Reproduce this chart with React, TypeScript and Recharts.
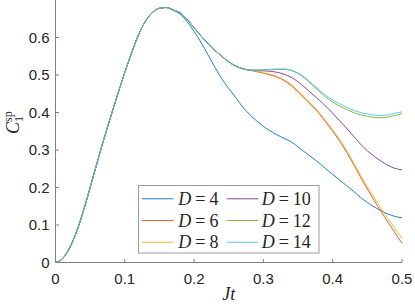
import React from 'react';
import { LineChart, Line, XAxis, YAxis } from 'recharts';

const times = [
  0, 0.01, 0.02, 0.03, 0.04, 0.05, 0.06, 0.07, 0.08, 0.09,
  0.1, 0.11, 0.12, 0.13, 0.14, 0.15, 0.16, 0.17, 0.18, 0.19,
  0.2, 0.21, 0.22, 0.23, 0.24, 0.25, 0.26, 0.27, 0.28, 0.29,
  0.3, 0.31, 0.32, 0.33, 0.34, 0.35, 0.36, 0.37, 0.38, 0.39,
  0.4, 0.41, 0.42, 0.43, 0.44, 0.45, 0.46, 0.47, 0.48, 0.49, 0.5,
];

// t = 0 .. 0.17 (all D identical)
const risePart = [0, 0.01, 0.038, 0.08, 0.136, 0.2, 0.266, 0.33, 0.391, 0.45, 0.507, 0.56, 0.608, 0.644, 0.667, 0.678, 0.68, 0.673];
// t = 0.18 .. 0.28 (D >= 6 identical)
const plateauPart = [0.666, 0.648, 0.626, 0.604, 0.584, 0.566, 0.55, 0.535, 0.524, 0.517, 0.513];

// t = 0.18 .. 0.5
const tailD4 = [0.662, 0.642, 0.616, 0.587, 0.554, 0.521, 0.49, 0.464, 0.44, 0.415, 0.395, 0.378, 0.363, 0.351, 0.34, 0.331, 0.322, 0.308, 0.294, 0.28, 0.266, 0.25, 0.235, 0.22, 0.205, 0.19, 0.174, 0.16, 0.148, 0.138, 0.129, 0.123, 0.119];
// t = 0.29 .. 0.5
const tailD6 = [0.509, 0.505, 0.5, 0.494, 0.485, 0.472, 0.455, 0.437, 0.418, 0.398, 0.374, 0.35, 0.324, 0.294, 0.262, 0.228, 0.196, 0.165, 0.135, 0.107, 0.079, 0.051];
const tailD8 = [0.51, 0.506, 0.502, 0.496, 0.487, 0.475, 0.458, 0.44, 0.421, 0.401, 0.378, 0.354, 0.328, 0.299, 0.267, 0.233, 0.202, 0.172, 0.143, 0.116, 0.09, 0.065];
const tailD10 = [0.512, 0.511, 0.51, 0.507, 0.502, 0.494, 0.482, 0.467, 0.45, 0.434, 0.417, 0.398, 0.378, 0.358, 0.337, 0.316, 0.298, 0.283, 0.27, 0.259, 0.251, 0.247];
const tailD12 = [0.513, 0.514, 0.514, 0.515, 0.515, 0.512, 0.504, 0.491, 0.474, 0.457, 0.441, 0.428, 0.417, 0.408, 0.4, 0.394, 0.39, 0.387, 0.386, 0.388, 0.392, 0.397];
const tailD14 = [0.513, 0.514, 0.515, 0.516, 0.516, 0.513, 0.505, 0.493, 0.477, 0.461, 0.446, 0.433, 0.423, 0.414, 0.406, 0.4, 0.396, 0.393, 0.392, 0.394, 0.398, 0.402];

const d4 = [...risePart, ...tailD4];
const d6 = [...risePart, ...plateauPart, ...tailD6];
const d8 = [...risePart, ...plateauPart, ...tailD8];
const d10 = [...risePart, ...plateauPart, ...tailD10];
const d12 = [...risePart, ...plateauPart, ...tailD12];
const d14 = [...risePart, ...plateauPart, ...tailD14];

const seriesLabels = ['4', '6', '8', '10', '12', '14'];
const seriesKeys = ['d4', 'd6', 'd8', 'd10', 'd12', 'd14'];
const seriesColors = ['#0072BD', '#D95319', '#EDB120', '#7E2F8E', '#77AC30', '#4DBEEE'];
const seriesValues = [d4, d6, d8, d10, d12, d14];

const xTicks = [0, 0.1, 0.2, 0.3, 0.4, 0.5];
const yTicks = [0, 0.1, 0.2, 0.3, 0.4, 0.5, 0.6];

const data = times.map((t, i) => {
  const row: Record<string, number> = { t };
  seriesKeys.forEach((k, j) => {
    row[k] = seriesValues[j][i];
  });
  return row;
});

const axisColor = '#808080';
const tickStyle = { fontSize: 15, fill: '#262626', fontFamily: '"Liberation Sans", Arial, sans-serif' };
const serif = '"Liberation Serif", "Times New Roman", serif';

const XLabel = (props: any) => {
  const vb = props.viewBox || { x: 0, y: 0, width: 0, height: 0 };
  return (
    <text
      x={vb.x + vb.width / 2}
      y={vb.y + 37}
      textAnchor="middle"
      fontFamily={serif}
      fontStyle="italic"
      fontSize={18}
      fill="#262626"
    >
      Jt
    </text>
  );
};

const YLabel = () => {
  const x = 19;
  const y = 134;
  return (
    <text
      x={x}
      y={y}
      transform={`rotate(-90 ${x} ${y})`}
      fontFamily={serif}
      fill="#262626"
      fontSize={18}
    >
      <tspan fontStyle="italic">C</tspan>
      <tspan fontSize={12} dy={4}>1</tspan>
      <tspan fontSize={12} dx={-6} dy={-11}>sp</tspan>
    </text>
  );
};

const LegendBox = () => {
  const rowY = [13.8, 35.5, 57.2];
  const cols = [
    { lx1: 3.7, lx2: 35.3, tx: 40.3 },
    { lx1: 88.7, lx2: 120.3, tx: 123.7 },
  ];
  return (
    <svg
      width={182}
      height={69}
      style={{ position: 'absolute', left: 137.5, top: 184.5 }}
    >
      <rect x={0.5} y={0.5} width={180.5} height={67.5} fill="#ffffff" stroke="#9a9a9a" strokeWidth={1} />
      {seriesLabels.map((lab, i) => {
        const c = cols[Math.floor(i / 3)];
        const y = rowY[i % 3];
        return (
          <g key={lab}>
            <line x1={c.lx1} x2={c.lx2} y1={y} y2={y} stroke={seriesColors[i]} strokeWidth={0.9} />
            <text
              x={c.tx}
              y={y}
              dominantBaseline="central"
              fontFamily={serif}
              fontSize={18}
              fill="#262626"
            >
              <tspan fontStyle="italic">D</tspan>
              <tspan dx={4}>=</tspan>
              <tspan dx={4}>{lab}</tspan>
            </text>
          </g>
        );
      })}
    </svg>
  );
};

export default function App() {
  return (
    <div style={{ position: 'absolute', left: 0, top: 0, width: 415, height: 307, background: '#fff' }}>
      <LineChart width={415} height={307} data={data} margin={{ top: 0, right: 13, bottom: 0, left: 0 }}>
        <XAxis
          dataKey="t"
          type="number"
          domain={[0, 0.5]}
          ticks={xTicks}
          tickFormatter={(v: number) => String(v)}
          height={44.5}
          stroke={axisColor}
          tickLine={{ stroke: axisColor }}
          tickSize={-3.5}
          tickMargin={14}
          tick={tickStyle}
          interval={0}
          label={<XLabel />}
        />
        <YAxis
          type="number"
          domain={[0, 0.7]}
          ticks={yTicks}
          tickFormatter={(v: number) => String(v)}
          width={55.5}
          stroke={axisColor}
          tickLine={{ stroke: axisColor }}
          tickSize={-3.5}
          tickMargin={9.5}
          tick={tickStyle}
          interval={0}
          allowDataOverflow
          label={<YLabel />}
        />
        {seriesKeys.map((k, i) => (
          <Line
            key={k}
            type="monotone"
            dataKey={k}
            stroke={seriesColors[i]}
            strokeWidth={0.9}
            dot={false}
            isAnimationActive={false}
          />
        ))}
      </LineChart>
      <LegendBox />
    </div>
  );
}
